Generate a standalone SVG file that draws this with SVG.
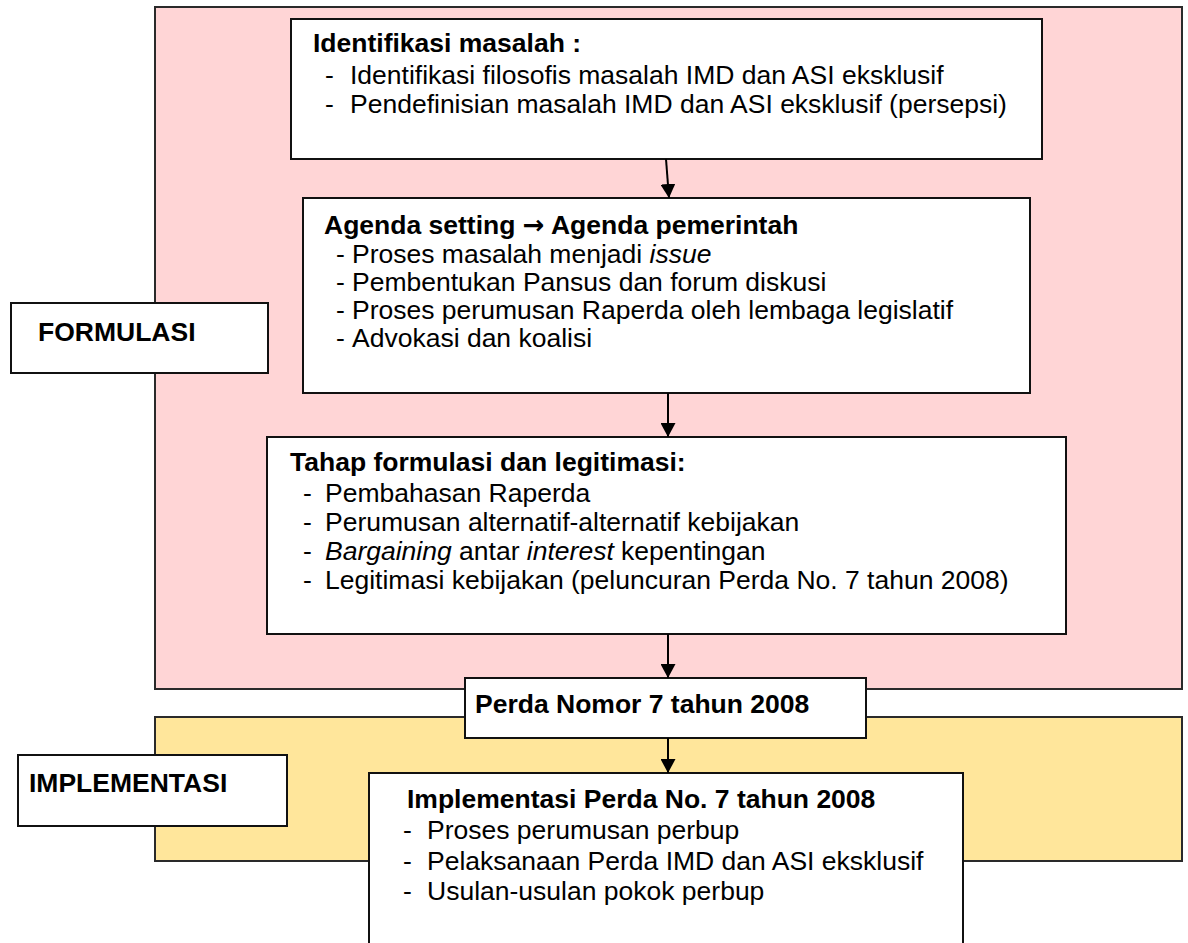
<svg xmlns="http://www.w3.org/2000/svg" width="1188" height="943" viewBox="0 0 1188 943">
  <defs>
    <style>
      .bg { fill: #ffffff; }
      .region { stroke: #2a2a2a; stroke-width: 2; }
      .pink { fill: #FFD5D6; }
      .yellow { fill: #FFE69B; }
      .box { fill: #ffffff; stroke: #111111; stroke-width: 2; }
      .t { font-family: "Liberation Sans", Arial, "DejaVu Sans", sans-serif; font-size: 26.5px; fill: #000000; }
      .b { font-weight: bold; }
      .i { font-style: italic; }
      .arr { font-family: "DejaVu Sans", sans-serif; font-weight: bold; font-size: 26px; }
      .conn { stroke: #000000; stroke-width: 2; fill: none; marker-end: url(#arrow); }
    </style>
    <marker id="arrow" viewBox="0 0 14 15" refX="14" refY="7.5" markerWidth="14" markerHeight="15" markerUnits="userSpaceOnUse" orient="auto">
      <path d="M0,0 L14,7.5 L0,15 z" fill="#000000"/>
    </marker>
  </defs>

  <rect class="bg" x="0" y="0" width="1188" height="943"/>

  <g id="region-formulasi">
    <rect class="region pink" x="155" y="7" width="1027" height="682"/>
  </g>
  <g id="region-implementasi">
    <rect class="region yellow" x="155" y="717" width="1027" height="144"/>
  </g>

  <g id="label-formulasi">
    <rect class="box" x="11" y="303" width="257" height="70"/>
    <text class="t b" x="38" y="341">FORMULASI</text>
  </g>

  <g id="node-identifikasi">
    <rect class="box" x="291" y="19" width="751" height="140"/>
    <text class="t b" x="313" y="52">Identifikasi masalah :</text>
    <text class="t"><tspan x="325" y="84">-</tspan><tspan x="350" y="84">Identifikasi filosofis masalah IMD dan ASI eksklusif</tspan></text>
    <text class="t"><tspan x="325" y="113">-</tspan><tspan x="350" y="113">Pendefinisian masalah IMD dan ASI eksklusif (persepsi)</tspan></text>
  </g>

  <g id="node-agenda">
    <rect class="box" x="303" y="198" width="727" height="195"/>
    <text class="t b" x="324" y="234">Agenda setting <tspan class="arr">→</tspan> Agenda pemerintah</text>
    <text class="t"><tspan x="336" y="263">-</tspan><tspan x="352" y="263">Proses masalah menjadi </tspan><tspan class="i">issue</tspan></text>
    <text class="t"><tspan x="336" y="291">-</tspan><tspan x="352" y="291">Pembentukan Pansus dan forum diskusi</tspan></text>
    <text class="t"><tspan x="336" y="319">-</tspan><tspan x="352" y="319">Proses perumusan Raperda oleh lembaga legislatif</tspan></text>
    <text class="t"><tspan x="336" y="347">-</tspan><tspan x="352" y="347">Advokasi dan koalisi</tspan></text>
  </g>

  <g id="node-tahap">
    <rect class="box" x="267" y="437" width="799" height="197"/>
    <text class="t b" x="290" y="471">Tahap formulasi dan legitimasi:</text>
    <text class="t"><tspan x="303" y="502">-</tspan><tspan x="325" y="502">Pembahasan Raperda</tspan></text>
    <text class="t"><tspan x="303" y="531">-</tspan><tspan x="325" y="531">Perumusan alternatif-alternatif kebijakan</tspan></text>
    <text class="t"><tspan x="303" y="560">-</tspan><tspan x="325" y="560" class="i">Bargaining</tspan><tspan> antar </tspan><tspan class="i">interest</tspan><tspan> kepentingan</tspan></text>
    <text class="t"><tspan x="303" y="589">-</tspan><tspan x="325" y="589">Legitimasi kebijakan (peluncuran Perda No. 7 tahun 2008)</tspan></text>
  </g>

  <g id="node-perda">
    <rect class="box" x="465" y="678" width="401" height="60"/>
    <text class="t b" x="475" y="713">Perda Nomor 7 tahun 2008</text>
  </g>

  <g id="label-implementasi">
    <rect class="box" x="18" y="755" width="269" height="71"/>
    <text class="t b" x="29" y="792">IMPLEMENTASI</text>
  </g>

  <g id="node-implementasi">
    <rect class="box" x="369" y="773" width="594" height="190"/>
    <text class="t b" x="407" y="808">Implementasi Perda No. 7 tahun 2008</text>
    <text class="t"><tspan x="403" y="839">-</tspan><tspan x="427" y="839">Proses perumusan perbup</tspan></text>
    <text class="t"><tspan x="403" y="870">-</tspan><tspan x="427" y="870">Pelaksanaan Perda IMD dan ASI eksklusif</tspan></text>
    <text class="t"><tspan x="403" y="900">-</tspan><tspan x="427" y="900">Usulan-usulan pokok perbup</tspan></text>
  </g>

  <g id="connectors">
    <line class="conn" x1="666" y1="159" x2="669" y2="198"/>
    <line class="conn" x1="668" y1="393" x2="668" y2="437"/>
    <line class="conn" x1="668" y1="634" x2="668" y2="678"/>
    <line class="conn" x1="668" y1="738" x2="668" y2="773"/>
  </g>
</svg>
